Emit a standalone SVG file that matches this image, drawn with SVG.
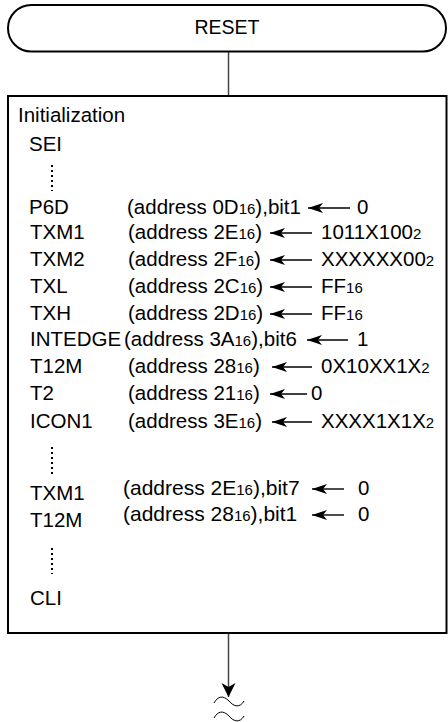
<svg xmlns="http://www.w3.org/2000/svg" width="448" height="722" viewBox="0 0 448 722">
<style>
text{font-family:"Liberation Sans",Arial,sans-serif;font-size:20.5px;fill:#000}
.s{font-size:15px}
.lo{font-size:21px}
.shape{fill:#fff;stroke:#000;stroke-width:2}
.conn{stroke:#444;stroke-width:1.5;fill:none}
.asg{stroke:#000;stroke-width:1.4;fill:none}
.dots{stroke:#000;stroke-width:2;stroke-dasharray:2 3;fill:none}
.wave{stroke:#000;stroke-width:1;fill:none}
</style>
<defs>
<marker id="ah" viewBox="-16 -7 18 14" refX="0" refY="0" markerWidth="18" markerHeight="14" markerUnits="userSpaceOnUse" orient="auto">
<path d="M0,0 L-15,-5 L-11,0 L-15,5 Z" fill="#000"/>
</marker>
<marker id="ah2" viewBox="-16 -8 18 16" refX="0" refY="0" markerWidth="18" markerHeight="16" markerUnits="userSpaceOnUse" orient="auto">
<path d="M0,0 L-14,-7 L-10,0 L-14,7 Z" fill="#000"/>
</marker>
</defs>
<g id="connectors">
<line class="conn" x1="228.5" y1="52" x2="228.5" y2="95"/>
<line class="conn" x1="228.5" y1="633" x2="228.5" y2="697" marker-end="url(#ah2)"/>
<path class="wave" d="M214,703 C218,696 223,695 229,701 C234,707 240,708 244,701"/>
<path class="wave" d="M214,718 C218,711 223,710 229,716 C234,722 240,723 244,716"/>
</g>
<g id="reset">
<rect class="shape" x="8" y="5" width="438" height="46.5" rx="23.25" ry="23.25"/>
<text x="227" y="34" text-anchor="middle" style="font-size:19.5px">RESET</text>
</g>
<g id="init">
<rect class="shape" x="8" y="96" width="438.5" height="537"/>
<text x="18" y="122">Initialization</text>
<text x="29" y="151">SEI</text>
<line class="dots" x1="52" y1="165" x2="52" y2="191"/>
<text x="29" y="214">P6D</text>
<text x="127" y="214">(address 0D<tspan class="s">16</tspan>),bit1</text>
<line class="asg" x1="350" y1="208" x2="308" y2="208" marker-end="url(#ah)"/>
<text x="357" y="214">0</text>

<text x="30" y="239">TXM1</text>
<text x="128" y="239">(address 2E<tspan class="s">16</tspan>)</text>
<line class="asg" x1="312" y1="233" x2="270" y2="233" marker-end="url(#ah)"/>
<text x="321" y="239">1011X100<tspan class="s">2</tspan></text>

<text x="30" y="266">TXM2</text>
<text x="128" y="266">(address 2F<tspan class="s">16</tspan>)</text>
<line class="asg" x1="312" y1="260" x2="270" y2="260" marker-end="url(#ah)"/>
<text x="321" y="266">XXXXXX00<tspan class="s">2</tspan></text>

<text x="30" y="293">TXL</text>
<text x="128" y="293">(address 2C<tspan class="s">16</tspan>)</text>
<line class="asg" x1="312" y1="287" x2="270" y2="287" marker-end="url(#ah)"/>
<text x="321" y="293">FF<tspan class="s">16</tspan></text>

<text x="30" y="320">TXH</text>
<text x="128" y="320">(address 2D<tspan class="s">16</tspan>)</text>
<line class="asg" x1="312" y1="314" x2="270" y2="314" marker-end="url(#ah)"/>
<text x="321" y="320">FF<tspan class="s">16</tspan></text>

<text x="30" y="346">INTEDGE</text>
<text x="124" y="346">(address 3A<tspan class="s">16</tspan>),bit6</text>
<line class="asg" x1="348" y1="340" x2="307" y2="340" marker-end="url(#ah)"/>
<text x="357" y="346">1</text>

<text x="30" y="373">T12M</text>
<text x="128" y="373">(address 28<tspan class="s">16</tspan>)</text>
<line class="asg" x1="312" y1="367" x2="272" y2="367" marker-end="url(#ah)"/>
<text x="321" y="373">0X10XX1X<tspan class="s">2</tspan></text>

<text x="30" y="400">T2</text>
<text x="128" y="400">(address 21<tspan class="s">16</tspan>)</text>
<line class="asg" x1="307" y1="394" x2="270" y2="394" marker-end="url(#ah)"/>
<text x="311" y="400">0</text>

<text x="30" y="428">ICON1</text>
<text x="128" y="428">(address 3E<tspan class="s">16</tspan>)</text>
<line class="asg" x1="312" y1="422" x2="272" y2="422" marker-end="url(#ah)"/>
<text x="321" y="428">XXXX1X1X<tspan class="s">2</tspan></text>

<line class="dots" x1="52" y1="447" x2="52" y2="474"/>

<text x="30" y="500">TXM1</text>
<text class="lo" x="123" y="495">(address 2E<tspan class="s">16</tspan>),bit7</text>
<line class="asg" x1="344" y1="489" x2="312" y2="489" marker-end="url(#ah)"/>
<text x="358" y="495">0</text>

<text x="30" y="527">T12M</text>
<text class="lo" x="123" y="521">(address 28<tspan class="s">16</tspan>),bit1</text>
<line class="asg" x1="344" y1="515" x2="312" y2="515" marker-end="url(#ah)"/>
<text x="358" y="521">0</text>

<line class="dots" x1="52" y1="548" x2="52" y2="574"/>
<text x="30" y="605">CLI</text>
</g>
</svg>
